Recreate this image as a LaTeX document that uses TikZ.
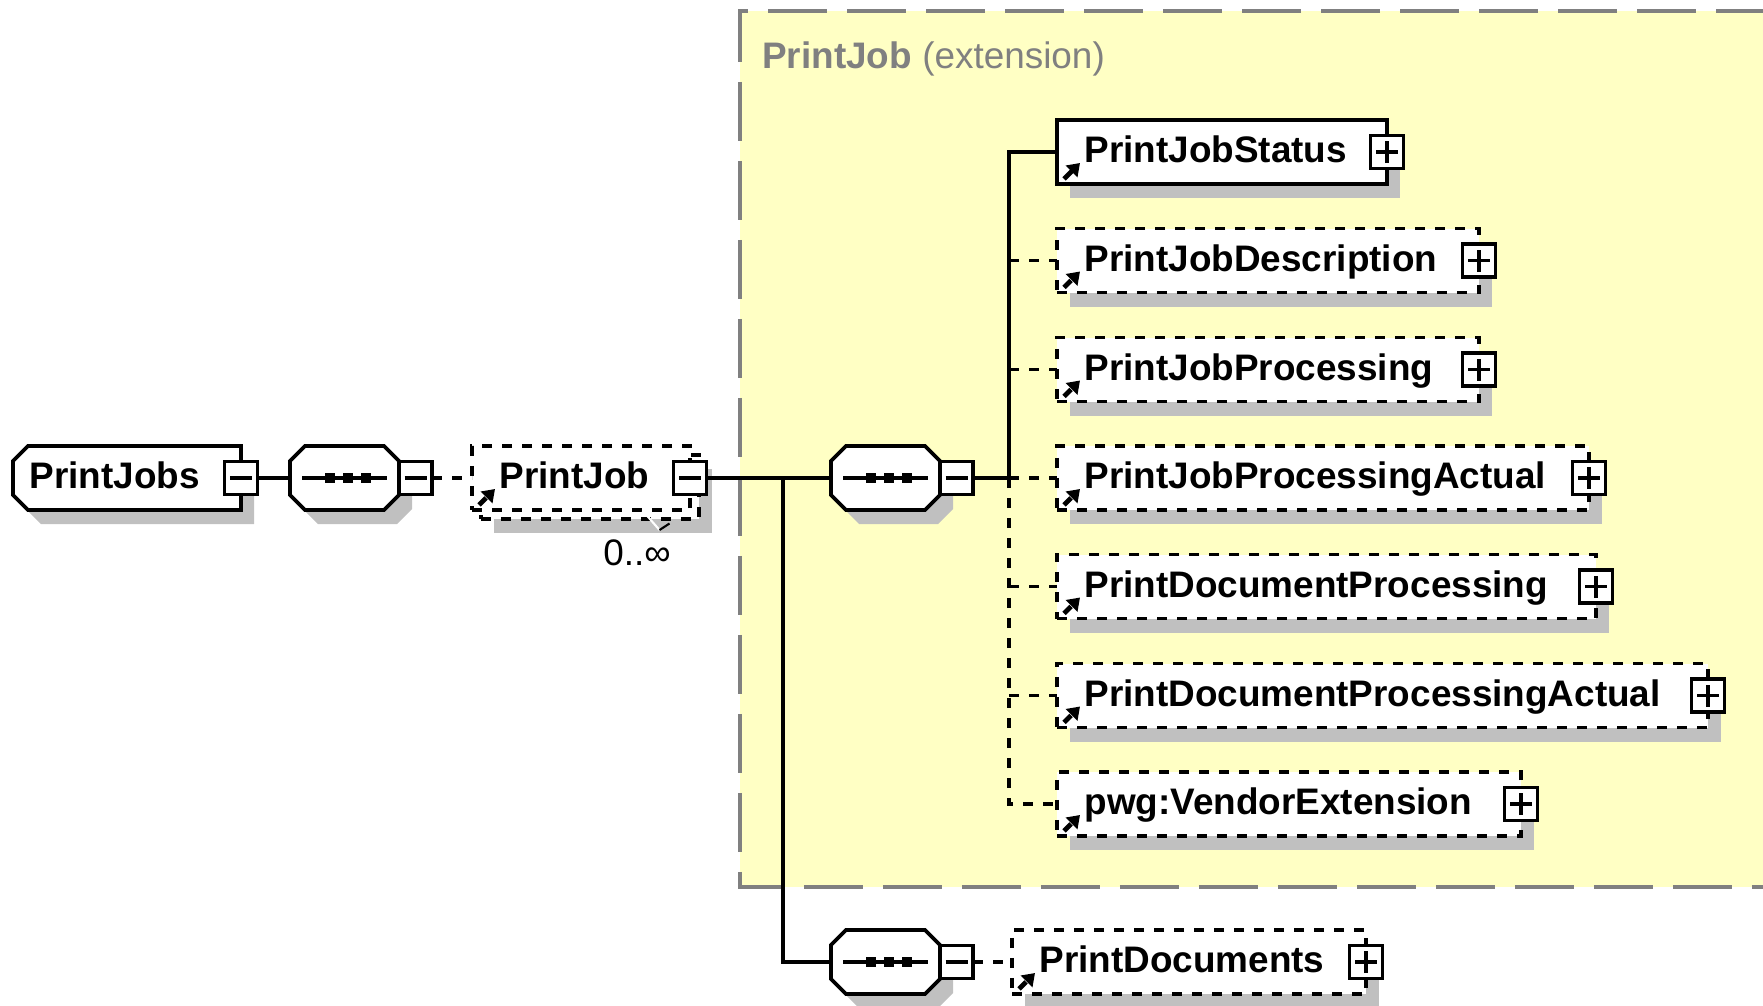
\documentclass[tikz,border=0pt]{standalone}
\usepackage{fontspec}
\setmainfont{Liberation Sans}
\usepackage{tikz}
\usetikzlibrary{shadows}
\usetikzlibrary{arrows.meta}
\usetikzlibrary{backgrounds}
\definecolor{extfill}{RGB}{255,255,196}
\definecolor{extline}{RGB}{128,128,128}
\definecolor{shadowgray}{RGB}{192,192,192}
\newcommand{\elemfont}{\fontsize{21pt}{25pt}\selectfont\bfseries}
\newcommand{\plainfont}{\fontsize{21pt}{25pt}\selectfont}
% octagon of a sequence compositor, drawn round an invisible node
\newcommand{\seqshape}[1]{%
  \fill[shadowgray, transform canvas={xshift=0.26cm, yshift=-0.28cm}] ([xshift=0.3cm]#1.north west) -- ([xshift=-0.3cm]#1.north east) -- ([yshift=-0.3cm]#1.north east) -- ([yshift=0.3cm]#1.south east) -- ([xshift=-0.3cm]#1.south east) -- ([xshift=0.3cm]#1.south west) -- ([yshift=0.3cm]#1.south west) -- ([yshift=-0.3cm]#1.north west) -- cycle;
  \filldraw[fill=white, line width=2.2pt] ([xshift=0.3cm]#1.north west) -- ([xshift=-0.3cm]#1.north east) -- ([yshift=-0.3cm]#1.north east) -- ([yshift=0.3cm]#1.south east) -- ([xshift=-0.3cm]#1.south east) -- ([xshift=0.3cm]#1.south west) -- ([yshift=0.3cm]#1.south west) -- ([yshift=-0.3cm]#1.north west) -- cycle;
  \draw[line width=2pt] ([xshift=-0.85cm]#1.center) -- ([xshift=0.85cm]#1.center);
  \fill ([shift={(-0.4,-0.1)}]#1.center) rectangle +(0.2,0.2);
  \fill ([shift={(-0.04,-0.1)}]#1.center) rectangle +(0.2,0.2);
  \fill ([shift={(0.32,-0.1)}]#1.center) rectangle +(0.2,0.2);}
\tikzstyle{castshadow}=[drop shadow={shadow xshift=0.26cm, shadow yshift=-0.28cm, fill=shadowgray, opacity=1}]
\tikzstyle{elem}=[draw, fill=white, line width=2.2pt, outer sep=0pt, anchor=west, minimum height=1.28cm, inner xsep=0.55cm, inner ysep=0pt, align=left, font=\elemfont, text height=0.52cm, text depth=0.1cm]
\tikzstyle{optional}=[dash pattern=on 0.2cm off 0.2cm]
\tikzstyle{reficon}=[path picture={\draw[line width=2.8pt, -{Triangle[length=0.24cm, width=0.32cm]}] ([shift={(0.14,0.1)}]path picture bounding box.south west) -- +(0.32,0.32);}]
\tikzstyle{refelem}=[elem, castshadow, reficon]
\tikzstyle{btn}=[draw, fill=white, line width=2pt, outer sep=0pt, minimum size=0.66cm, inner sep=0pt]
\tikzstyle{btnminus}=[btn, path picture={\draw[line width=1.8pt] ([xshift=-0.22cm]path picture bounding box.center) -- ([xshift=0.22cm]path picture bounding box.center);}]
\tikzstyle{btnplus}=[btn, path picture={\draw[line width=1.8pt] ([xshift=-0.22cm]path picture bounding box.center) -- ([xshift=0.22cm]path picture bounding box.center) ([yshift=-0.22cm]path picture bounding box.center) -- ([yshift=0.22cm]path picture bounding box.center);}]
\tikzstyle{seqbox}=[minimum width=2.18cm, minimum height=1.28cm, inner sep=0pt, outer sep=0pt, anchor=west]
\tikzstyle{wire}=[line width=2.2pt]
\tikzstyle{optwire}=[wire, optional]
\tikzstyle{extborder}=[draw=extline, line width=2pt, dash pattern=on 1.18cm off 0.4cm]

\begin{document}
\begin{tikzpicture}
    \useasboundingbox (0,0) rectangle (35.26,-20.12);
    \node[anchor=base west, inner sep=0pt, text=extline, font=\plainfont] (exttitle) at (15.24,-1.36) {\textbf{PrintJob} (extension)};
    % root and first sequence
    \node[elem, draw=none, fill=none, minimum width=4.56cm, inner xsep=0pt, text width=3.9cm] (jobs) at (0.26,-9.56) {PrintJobs};
    \node[btnminus] (jobsb) at (jobs.east) {};
    \node[seqbox] (s1) at (5.8,-9.56) {};
    % PrintJob, 0..unbounded
    \node[elem, optional, castshadow, minimum width=4.36cm] (jobback) at (9.62,-9.74) {};
    \node[elem, optional, reficon, text width=3.26cm] (job) at (9.44,-9.56) {PrintJob};
    \node[btnminus] (jobb) at (job.east) {};
    \node[anchor=base west, inner sep=0pt, font=\plainfont] (jobmult) at (12.06,-11.3) {0..∞};
    \draw[white, line width=1.2pt] (12.85,-10.21) -- (13.19,-10.6);
    \draw[line width=1.2pt] (13.19,-10.6) -- (13.39,-10.47);
    % sequences
    \node[seqbox] (s2) at (16.62,-9.56) {};
    \node[seqbox] (s3) at (16.62,-19.24) {};
    % children
    \node[refelem, text width=5.5cm] (status) at (21.14,-3.04) {PrintJobStatus};
    \node[btnplus] (statusb) at (status.east) {};
    \node[refelem, optional, text width=7.34cm] (desc) at (21.14,-5.21) {PrintJobDescription};
    \node[btnplus] (descb) at (desc.east) {};
    \node[refelem, optional, text width=7.34cm] (proc) at (21.14,-7.39) {PrintJobProcessing};
    \node[btnplus] (procb) at (proc.east) {};
    \node[refelem, optional, text width=9.54cm] (procact) at (21.14,-9.56) {PrintJobProcessingActual};
    \node[btnplus] (procactb) at (procact.east) {};
    \node[refelem, optional, text width=9.68cm] (docproc) at (21.14,-11.73) {PrintDocumentProcessing};
    \node[btnplus] (docprocb) at (docproc.east) {};
    \node[refelem, optional, text width=11.92cm] (docprocact) at (21.14,-13.91) {PrintDocumentProcessingActual};
    \node[btnplus] (docprocactb) at (docprocact.east) {};
    \node[refelem, optional, text width=8.18cm] (vendor) at (21.14,-16.08) {pwg:VendorExtension};
    \node[btnplus] (vendorb) at (vendor.east) {};
    \node[refelem, optional, text width=5.98cm] (docs) at (20.24,-19.24) {PrintDocuments};
    \node[btnplus] (docsb) at (docs.east) {};
    % outlines behind the nodes
    \begin{scope}[on background layer]
        \fill[extfill] (14.8,-0.22) rectangle (35.5,-17.74);
        \draw[extborder] (35.5,-0.22) -- (14.8,-0.22) -- (14.8,-17.74) -- (35.5,-17.74);
        \fill[shadowgray, transform canvas={xshift=0.26cm, yshift=-0.28cm}] ([xshift=0.3cm]jobs.north west) -- (jobs.north east) -- (jobs.south east) -- ([xshift=0.3cm]jobs.south west) -- ([yshift=0.3cm]jobs.south west) -- ([yshift=-0.3cm]jobs.north west) -- cycle;
        \filldraw[fill=white, line width=2.2pt] ([xshift=0.3cm]jobs.north west) -- (jobs.north east) -- (jobs.south east) -- ([xshift=0.3cm]jobs.south west) -- ([yshift=0.3cm]jobs.south west) -- ([yshift=-0.3cm]jobs.north west) -- cycle;
        \seqshape{s1}
        \seqshape{s2}
        \seqshape{s3}
    \end{scope}
    \node[btnminus, anchor=west] (s1b) at (s1.east) {};
    \node[btnminus, anchor=west] (s2b) at (s2.east) {};
    \node[btnminus, anchor=west] (s3b) at (s3.east) {};
    % connectors
    \coordinate (split) at (15.66,-9.56);
    \coordinate (fork) at (20.18,-9.56);
    \draw[wire] (jobsb.east) -- (s1.west);
    \draw[optwire] (s1b.east) -- (job.west);
    \draw[wire] (jobb.east) -- (s2.west);
    \draw[wire] (split) |- (s3.west);
    \draw[wire] (s2b.east) -- (fork);
    \draw[wire] (fork) |- (status.west);
    \draw[optwire] (desc.west -| fork) -- (desc.west);
    \draw[optwire] (proc.west -| fork) -- (proc.west);
    \draw[optwire] (fork) -- (procact.west);
    \draw[optwire] (docproc.west -| fork) -- (docproc.west);
    \draw[optwire] (docprocact.west -| fork) -- (docprocact.west);
    \draw[optwire] (fork) |- (vendor.west);
    \draw[optwire] (s3b.east) -- (docs.west);
\end{tikzpicture}
\end{document}
